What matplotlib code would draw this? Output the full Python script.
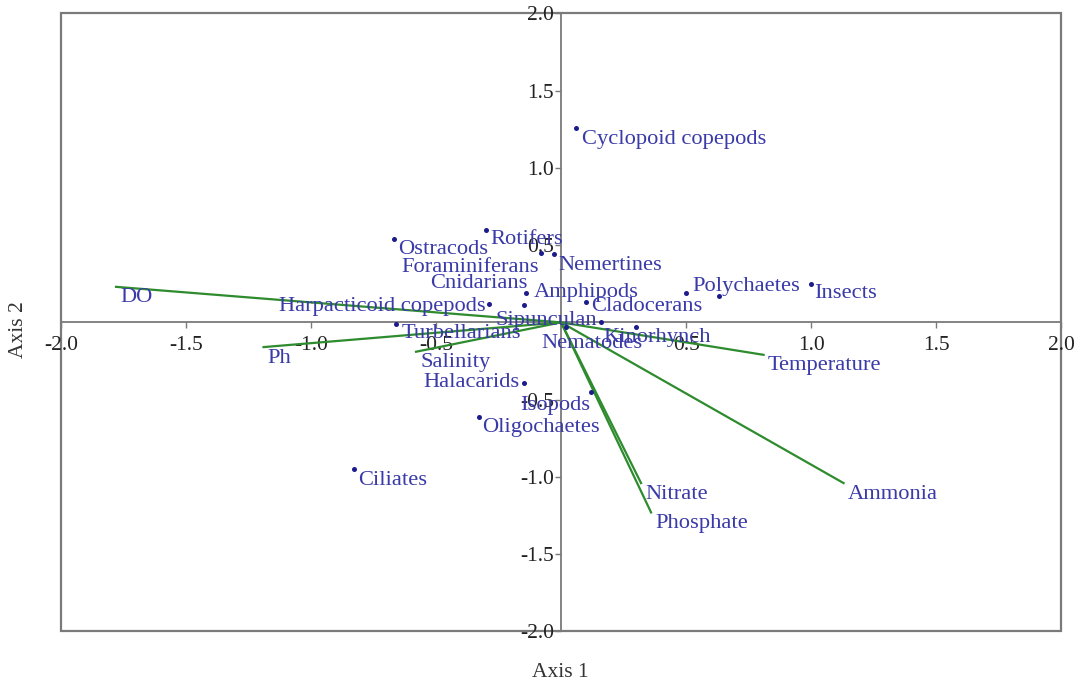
import matplotlib
matplotlib.use("Agg")
import matplotlib.pyplot as plt
from matplotlib.patches import Rectangle
from matplotlib.ticker import FuncFormatter, MultipleLocator

# species scores (axis 1, axis 2)
taxa = ["Cyclopoid copepods", "Rotifers", "Ostracods", "Foraminiferans", "Nemertines",
        "Amphipods", "Cnidarians", "Harpacticoid copepods", "Cladocerans", "Polychaetes",
        "", "Insects", "Sipunculan", "Kinorhynch", "Nematodes", "Turbellarians",
        "Halacarids", "Isopods", "Oligochaetes", "Ciliates"]
taxa_x = [0.06, -0.30, -0.67, -0.08, -0.03, -0.14, -0.15, -0.29, 0.10, 0.50,
          0.63, 1.00, 0.16, 0.30, 0.02, -0.66, -0.15, 0.12, -0.33, -0.83]
taxa_y = [1.26, 0.60, 0.54, 0.45, 0.44, 0.19, 0.11, 0.12, 0.13, 0.19,
          0.17, 0.25, 0.00, -0.03, -0.03, -0.01, -0.39, -0.45, -0.61, -0.95]

# environmental vectors
env = ["DO", "Ph", "Salinity", "Temperature", "Ammonia", "Nitrate", "Phosphate"]
env_x = [-1.78, -1.19, -0.58, 0.81, 1.13, 0.32, 0.36]
env_y = [0.23, -0.16, -0.19, -0.21, -1.04, -1.04, -1.23]

# label placement (pixel offsets from the point, alignment)
taxa_lab = {
    "Cyclopoid copepods": (6, -12, "left"), "Rotifers": (4, -10, "left"),
    "Ostracods": (5, -11, "left"), "Foraminiferans": (-2, -15, "right"),
    "Nemertines": (5, -11, "left"), "Amphipods": (8, 1, "left"),
    "Cnidarians": (4, 22, "right"), "Harpacticoid copepods": (-3, -3, "right"),
    "Cladocerans": (5, -4, "left"), "Polychaetes": (6, 7, "left"),
    "Insects": (3, -10, "left"), "Sipunculan": (-4, 2, "right"),
    "Kinorhynch": (-33, -10, "left"), "Nematodes": (-25, -16, "left"),
    "Turbellarians": (6, -10, "left"), "Halacarids": (-4, 0, "right"),
    "Isopods": (-1, -14, "right"), "Oligochaetes": (4, -11, "left"),
    "Ciliates": (5, -11, "left"),
}

dot_col = "#1c1c8c"
txt_col = "#3a3aa8"
line_col = "#2e8b2e"
axis_col = "#7a7a7a"
plt.rcParams['font.family'] = ['Liberation Serif', 'DejaVu Serif']

fig = plt.figure(figsize=(10.8, 6.83), dpi=100)
ax = fig.add_axes([0.0565, 0.0755, 0.926, 0.905])
ax.set_xlim(-2, 2)
ax.set_ylim(-2, 2)

# env arrows (plain lines from origin)
for name, x, y in zip(env, env_x, env_y):
    ax.plot([0, x], [0, y], color=line_col, lw=1.6, zorder=2)
    ax.annotate(name, (x, y), xytext=(4, -11), textcoords="offset pixels",
                ha="left", va="center", fontsize=16.2, color=txt_col, zorder=4)

ax.scatter(taxa_x, taxa_y, s=13, color=dot_col, zorder=3, linewidths=0)
for name, x, y in zip(taxa, taxa_x, taxa_y):
    if not name:
        continue
    dx, dy, ha = taxa_lab[name]
    ax.annotate(name, (x, y), xytext=(dx, dy), textcoords="offset pixels",
                ha=ha, va="center", fontsize=16.2, color=txt_col, zorder=4)

# centred axes + outer frame
for s in ["top", "right"]:
    ax.spines[s].set_visible(False)
ax.spines["left"].set_position(("data", 0))
ax.spines["bottom"].set_position(("data", 0))
for s in ["left", "bottom"]:
    ax.spines[s].set_color(axis_col)
    ax.spines[s].set_linewidth(1.3)
    ax.spines[s].set_zorder(1)
ax.add_patch(Rectangle((0, 0), 1, 1, transform=ax.transAxes, fill=False,
                       edgecolor=axis_col, lw=1.6, clip_on=False, zorder=1))

fmt = FuncFormatter(lambda v, p: "" if abs(v) < 1e-9 else f"{v:.1f}")
ax.xaxis.set_major_locator(MultipleLocator(0.5))
ax.yaxis.set_major_locator(MultipleLocator(0.5))
ax.xaxis.set_major_formatter(fmt)
ax.yaxis.set_major_formatter(fmt)
ax.tick_params(axis="x", direction="out", length=4, width=1, color=axis_col,
               pad=6, labelsize=15.5, labelcolor="#222222")
ax.tick_params(axis="y", direction="out", length=4, width=1, color=axis_col,
               pad=1, labelsize=15.5, labelcolor="#222222")

fig.text(0.519, 0.016, "Axis 1", ha="center", va="center", fontsize=15.5, color="#333333")
fig.text(0.017, 0.517, "Axis 2", ha="center", va="center", rotation=90,
         fontsize=15.5, color="#333333")

plt.savefig("out.png", dpi=100)
